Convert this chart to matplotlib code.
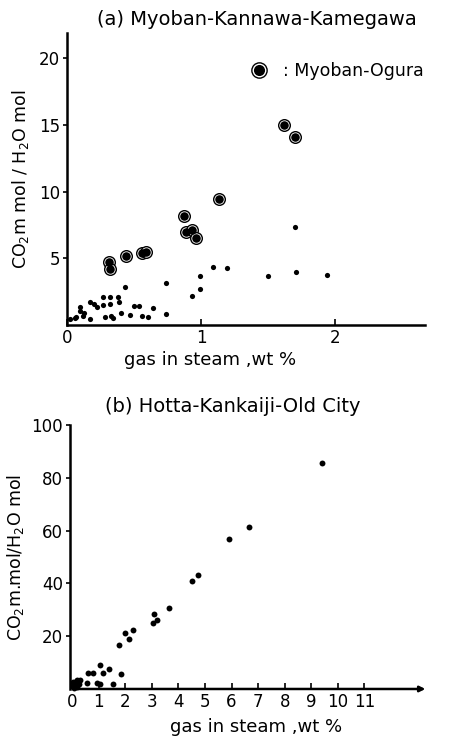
import numpy as np
import matplotlib
matplotlib.use('Agg')
import matplotlib.pyplot as plt
from matplotlib.lines import Line2D
from matplotlib.legend_handler import HandlerTuple

# (a) Myoban-Kannawa-Kamegawa : small dots
a_gas = [0.02, 0.06, 0.07, 0.10, 0.10, 0.12, 0.13, 0.17, 0.17, 0.20, 0.22,
         0.27, 0.27, 0.28, 0.32, 0.32, 0.33, 0.34, 0.38, 0.39, 0.40, 0.43,
         0.47, 0.50, 0.54, 0.56, 0.60, 0.64, 0.74, 0.74, 0.93, 0.99, 0.99,
         1.09, 1.19, 1.50, 1.70, 1.71, 1.94]
a_co2 = [0.43, 0.50, 0.60, 1.35, 1.08, 0.68, 0.92, 0.45, 1.73, 1.58, 1.33,
         2.08, 1.50, 0.58, 2.13, 1.58, 0.68, 0.50, 2.13, 1.73, 0.93, 2.83,
         0.78, 1.43, 1.43, 0.68, 0.63, 1.25, 3.18, 0.83, 2.18, 2.68, 3.68,
         4.34, 4.26, 3.71, 7.34, 3.94, 3.73]

# Myoban-Ogura (ringed points)
og_gas = [0.31, 0.32, 0.44, 0.56, 0.59, 0.87, 0.89, 0.93, 0.96, 1.13, 1.62, 1.70]
og_co2 = [4.76, 4.18, 5.19, 5.39, 5.51, 8.14, 7.00, 7.14, 6.50, 9.47, 14.98, 14.08]

# (b) Hotta-Kankaiji-Old City
b_gas = [9.42, 6.64, 5.91, 4.72, 4.52, 3.66, 3.07, 3.03, 3.18, 2.28, 1.99,
         2.15, 1.78, 1.84, 1.55, 1.05, 1.37, 1.15, 0.80, 0.61, 0.93, 1.05,
         0.55, 0.30, 0.05, 0.10, 0.15, 0.20, 0.08, 0.25, 0.12, 0.03, 0.18]
b_co2 = [85.7, 61.4, 56.8, 43.2, 41.0, 30.6, 28.5, 24.9, 26.1, 22.3, 21.3,
         18.8, 16.7, 5.7, 1.8, 9.2, 7.5, 5.9, 6.2, 6.2, 2.3, 1.9,
         2.4, 3.4, 1.0, 2.5, 1.5, 3.5, 0.5, 2.0, 1.2, 2.8, 0.8]

a_xticks = [0, 1, 2]
a_yticks = [5, 10, 15, 20]
b_xticks = list(range(0, 12))
b_yticks = [20, 40, 60, 80, 100]

fig = plt.figure(figsize=(4.70, 7.41), dpi=100)
plt.rcParams['font.family'] = ['DejaVu Sans']


def style_axes(ax):
    for s in ['top', 'right']:
        ax.spines[s].set_visible(False)
    for s in ['left', 'bottom']:
        ax.spines[s].set_linewidth(1.8)
    ax.tick_params(axis='x', direction='in', length=4, width=1.2, labelsize=12, pad=3)
    ax.tick_params(axis='y', direction='out', length=3, width=1.2, labelsize=12, pad=2)


# ---- (a)
ax1 = fig.add_axes([0.1426, 0.5614, 0.762, 0.394])
ax1.scatter(a_gas, a_co2, s=14, c='black', linewidths=0, zorder=3)
ax1.scatter(og_gas, og_co2, s=70, facecolors='white', edgecolors='black', linewidths=1.0, zorder=3)
ax1.scatter(og_gas, og_co2, s=38, c='black', linewidths=0, zorder=4)
ax1.set_xlim(0, 2.67)
ax1.set_ylim(0, 21.9)
ax1.set_xticks(a_xticks)
ax1.set_yticks(a_yticks)
style_axes(ax1)
ax1.set_xlabel('gas in steam ,wt %', fontsize=13)
ax1.xaxis.set_label_coords(0.40, -0.09)
ax1.set_ylabel('CO$_2$m mol / H$_2$O mol', fontsize=12.5, labelpad=6)
ax1.set_title('(a) Myoban-Kannawa-Kamegawa', fontsize=14, x=0.53, y=1.0)

ring = Line2D([], [], marker='o', markersize=11, markerfacecolor='white',
              markeredgecolor='black', markeredgewidth=1.0, linestyle='none')
dot = Line2D([], [], marker='o', markersize=8, markerfacecolor='black',
             markeredgewidth=0, linestyle='none')
ax1.legend([(ring, dot)], [': Myoban-Ogura'], handler_map={tuple: HandlerTuple(ndivide=1)},
           loc='upper right', bbox_to_anchor=(1.04, 0.955), frameon=False, fontsize=12.5,
           handlelength=1.0, handletextpad=0.9)

# ---- (b)
ax2 = fig.add_axes([0.149, 0.0702, 0.762, 0.356])
ax2.scatter(b_gas, b_co2, s=18, c='black', linewidths=0, zorder=3, clip_on=False)
ax2.set_xlim(-0.08, 13.4)
ax2.set_ylim(0, 100)
ax2.set_xticks(b_xticks)
ax2.set_yticks(b_yticks)
style_axes(ax2)
ax2.spines['bottom'].set_visible(False)
ax2.annotate('', xy=(1.0, 0), xytext=(0, 0), xycoords='axes fraction',
             arrowprops=dict(arrowstyle='-|>', lw=1.8, color='black', mutation_scale=8))
ax2.set_xlabel('gas in steam ,wt %', fontsize=13)
ax2.xaxis.set_label_coords(0.52, -0.11)
ax2.set_ylabel('CO$_2$m.mol/H$_2$O mol', fontsize=12.5, labelpad=4)
ax2.set_title('(b) Hotta-Kankaiji-Old City', fontsize=14, x=0.455, y=1.02)

fig.savefig('out.png', dpi=100)
